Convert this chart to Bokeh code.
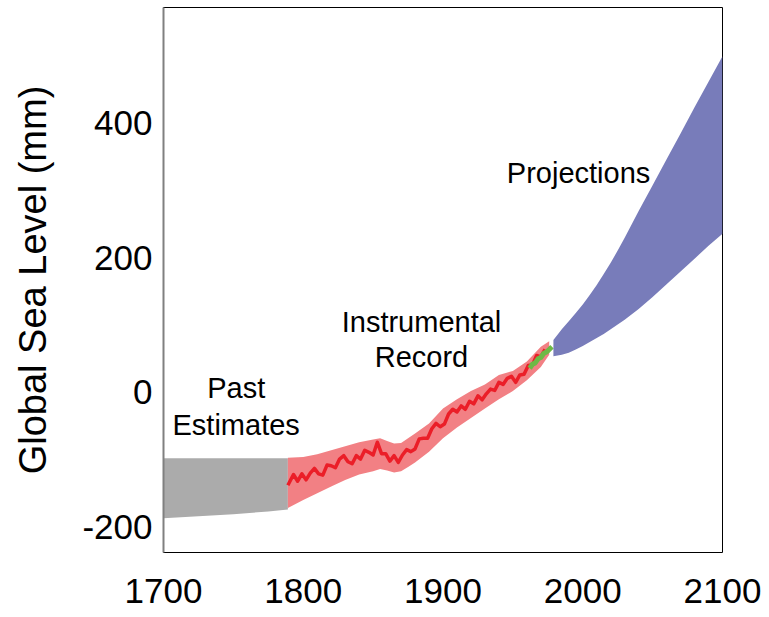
from bokeh.plotting import figure
from bokeh.models import Label, Range1d, FixedTicker, PrintfTickFormatter
from bokeh.embed import file_html
from bokeh.resources import INLINE

# ---- data ----
past_years = [1700, 1725, 1750, 1775, 1789]
past_upper = [-98, -98, -98, -98, -98]
past_lower = [-187, -184, -181, -177, -174]

band_years = [1789, 1800, 1810, 1820, 1830, 1840, 1850, 1855, 1860, 1865, 1870, 1875, 1880,
              1890, 1900, 1910, 1920, 1930, 1940, 1950, 1960, 1970, 1976]
band_upper = [-97, -96, -92, -86, -80, -74, -70, -68, -72, -76, -75, -68, -61,
              -46, -24, -10, 2, 12, 26, 32, 46, 68, 76]
band_lower = [-172, -160, -150, -140, -130, -122, -117, -114, -116, -119, -117, -111, -104,
              -88, -68, -52, -38, -24, -10, 2, 18, 38, 56]

instr_years = [1789, 1793, 1796, 1799, 1802, 1805, 1808, 1811, 1814, 1817,
               1820, 1823, 1826, 1829, 1832, 1835, 1838, 1841, 1844, 1847,
               1850, 1853, 1856, 1859, 1862, 1865, 1868, 1871, 1874, 1877,
               1880, 1883, 1886, 1889, 1892, 1895, 1898, 1901, 1904, 1907,
               1910, 1913, 1916, 1919, 1922, 1925, 1928, 1931, 1934, 1937,
               1940, 1943, 1946, 1949, 1952, 1955, 1958, 1961, 1964, 1967,
               1970, 1973]
instr_level = [-138, -122, -132, -121, -130, -120, -113, -121, -123, -108,
               -109, -112, -99, -94, -103, -106, -94, -99, -86, -89,
               -93, -74, -91, -91, -102, -94, -104, -93, -85, -88,
               -84, -69, -68, -68, -54, -46, -51, -47, -32, -25,
               -29, -20, -25, -13, -17, -5, -11, -2, 5, 3,
               15, 12, 21, 24, 15, 26, 27, 40, 41, 55,
               53, 64]

sat_years = [1962, 1964, 1966, 1968, 1970, 1972, 1974, 1976, 1978]
sat_level = [36, 42, 44, 50, 52, 58, 60, 64, 68]

proj_years = [1979, 1985, 1990, 1995, 2000, 2005, 2010, 2015, 2020, 2025, 2030,
              2040, 2050, 2060, 2070, 2080, 2090, 2100]
proj_upper = [78, 94, 106, 118, 131, 145, 160, 176, 193, 211, 230,
              270, 308, 347, 385, 424, 462, 500]
proj_lower = [54, 56, 59, 64, 69, 75, 81, 87, 94, 101, 108,
              124, 142, 161, 180, 199, 218, 236]

x_ticks = [1700, 1800, 1900, 2000, 2100]
y_ticks = [-200, 0, 200, 400]

FONT = "Liberation Sans"

p = figure(width=761, height=617,
           x_range=Range1d(1700, 2100), y_range=Range1d(-238, 572.5),
           output_backend="svg", toolbar_location=None,
           min_border_left=163, min_border_right=39,
           min_border_top=7, min_border_bottom=65)

p.grid.visible = False
p.outline_line_color = "black"
p.outline_line_width = 1
p.background_fill_color = "white"
p.border_fill_color = "white"

# x axis
xa = p.xaxis[0]
xa.ticker = FixedTicker(ticks=x_ticks)
xa.axis_line_color = None
xa.major_tick_line_color = None
xa.minor_tick_line_color = None
xa.major_tick_out = 0
xa.major_tick_in = 0
xa.major_label_standoff = 26
xa.major_label_text_font = FONT
xa.major_label_text_font_size = "35px"
xa.major_label_text_color = "black"

# y axis
ya = p.yaxis[0]
ya.ticker = FixedTicker(ticks=y_ticks)
ya.formatter = PrintfTickFormatter(format="%d")
ya.axis_line_color = "#808080"
ya.axis_line_width = 2
ya.major_tick_line_color = None
ya.minor_tick_line_color = None
ya.major_tick_out = 0
ya.major_tick_in = 0
ya.major_label_standoff = 11
ya.major_label_text_font = FONT
ya.major_label_text_font_size = "35px"
ya.major_label_text_color = "black"
ya.axis_label = "Global Sea Level (mm)"
ya.axis_label_text_font = FONT
ya.axis_label_text_font_size = "38px"
ya.axis_label_text_font_style = "normal"
ya.axis_label_text_color = "black"
ya.axis_label_standoff = 25

# marks
p.varea(x=past_years, y1=past_lower, y2=past_upper, fill_color="#ababab")
p.varea(x=band_years, y1=band_lower, y2=band_upper, fill_color="#f28084")
p.line(x=instr_years, y=instr_level, line_color="#eb1e28", line_width=3.5,
       line_join="round")
p.line(x=sat_years, y=sat_level, line_color="#6eb946", line_width=5,
       line_join="round")
p.varea(x=proj_years, y1=proj_lower, y2=proj_upper, fill_color="#787cba")

# annotations
def lab(x, y, t):
    p.add_layout(Label(x=x, y=y, text=t, text_font=FONT, text_font_size="29px",
                       text_color="black", text_align="center",
                       text_baseline="alphabetic"))

lab(1752, 6, "Past")
lab(1752, -48, "Estimates")
lab(1884.6, 105, "Instrumental")
lab(1884.6, 53, "Record")
lab(1997, 326, "Projections")

open("out.html", "w").write(file_html(p, INLINE))
